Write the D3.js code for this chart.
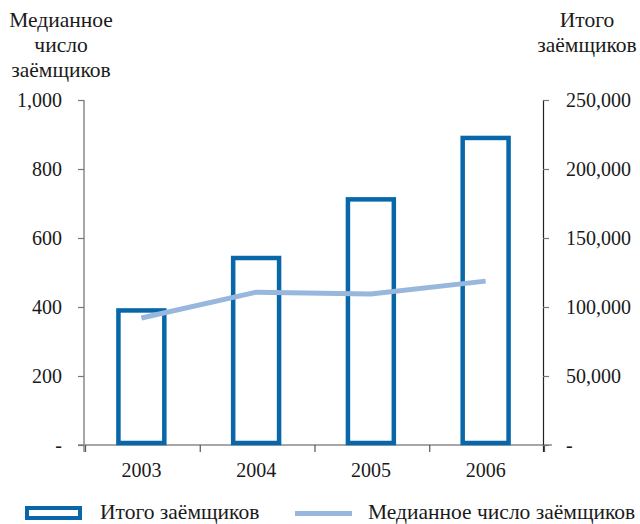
<!DOCTYPE html>
<html>
<head>
<meta charset="utf-8">
<script src="https://cdn.jsdelivr.net/npm/d3@7"></script>
<style>
  body { margin: 0; background: #fff; }
  text { font-family: "Liberation Serif", "Times New Roman", serif; fill: #1a1a1a; }
</style>
</head>
<body>
<svg id="chart"></svg>
<script>
// data
const years = ['2003', '2004', '2005', '2006'];
const totalBorrowers = [97500, 135500, 178000, 222500];
const medianBorrowers = [368, 443, 438, 475];
const leftTicks = [0, 200, 400, 600, 800, 1000];
const rightTicks = [0, 50000, 100000, 150000, 200000, 250000];
const leftTitle = ['Медианное', 'число', 'заёмщиков'];
const rightTitle = ['Итого', 'заёмщиков'];
const legendLabels = ['Итого заёмщиков', 'Медианное число заёмщиков'];

const width = 640, height = 524;
const barColor = '#0767a8';
const lineColor = '#98b7dd';
const fontSize = '20px';
const labelSize = '21.5px';

const svg = d3.select('#chart')
    .attr('width', width)
    .attr('height', height);

const x = d3.scaleBand()
    .domain(years)
    .range([84, 543])
    .paddingInner(0.6)
    .paddingOuter(0.3);

const yLeft = d3.scaleLinear().domain([0, 1000]).range([445, 100]);
const yRight = d3.scaleLinear().domain([0, 250000]).range([445, 100]);

const fmt = d => d === 0 ? '-' : d3.format(',')(d);

// x axis line + boundary ticks
svg.append('line')
    .attr('x1', 78).attr('x2', 552)
    .attr('y1', yLeft(0)).attr('y2', yLeft(0))
    .attr('stroke', '#8a8a8a').attr('stroke-width', 1.5);

const bounds = years.map(d => x(d) - x.step() * x.paddingInner() / 2)
    .concat([x(years[years.length - 1]) + x.bandwidth() + x.step() * x.paddingInner() / 2]);

svg.selectAll('.xtick')
    .data(bounds)
  .join('line')
    .attr('class', 'xtick')
    .attr('x1', d => d + 1.5).attr('x2', d => d + 1.5)
    .attr('y1', yLeft(0)).attr('y2', yLeft(0) + 7)
    .attr('stroke', '#555').attr('stroke-width', 1.2);

const xAxis = svg.append('g')
    .attr('transform', `translate(0,${yLeft(0)})`)
    .call(d3.axisBottom(x).tickSize(0).tickPadding(18));
xAxis.select('.domain').remove();
xAxis.selectAll('text').style('font-size', fontSize).attr('fill', '#1a1a1a');

// left axis
svg.append('line')
    .attr('x1', 84).attr('x2', 84)
    .attr('y1', 100).attr('y2', 452)
    .attr('stroke', '#8a8a8a').attr('stroke-width', 1.5);

const leftAxis = svg.append('g')
    .attr('transform', 'translate(84,0)')
    .call(d3.axisLeft(yLeft).tickValues(leftTicks).tickFormat(fmt)
        .tickSize(6).tickPadding(16).tickSizeOuter(0));
leftAxis.select('.domain').remove();
leftAxis.selectAll('line').attr('stroke', '#777').attr('stroke-width', 1.2);
leftAxis.selectAll('text').style('font-size', fontSize).attr('fill', '#1a1a1a');

// right axis
svg.append('line')
    .attr('x1', 543.5).attr('x2', 543.5)
    .attr('y1', 100).attr('y2', 452)
    .attr('stroke', '#222').attr('stroke-width', 1.2);

const rightAxis = svg.append('g')
    .attr('transform', 'translate(543,0)')
    .call(d3.axisRight(yRight).tickValues(rightTicks).tickFormat(fmt)
        .tickSize(6).tickPadding(17).tickSizeOuter(0));
rightAxis.select('.domain').remove();
rightAxis.selectAll('line').attr('stroke', '#777').attr('stroke-width', 1.2);
rightAxis.selectAll('text').style('font-size', fontSize).attr('fill', '#1a1a1a');

// bars (outlined)
svg.selectAll('.bar')
    .data(years)
  .join('rect')
    .attr('class', 'bar')
    .attr('x', d => x(d))
    .attr('width', x.bandwidth())
    .attr('y', (d, i) => yRight(totalBorrowers[i]))
    .attr('height', (d, i) => yRight(0) - yRight(totalBorrowers[i]) - 2)
    .attr('fill', 'none')
    .attr('stroke', barColor)
    .attr('stroke-width', 4.5);

// median line
const line = d3.line()
    .x((d, i) => x(years[i]) + x.bandwidth() / 2)
    .y(d => yLeft(d));

svg.append('path')
    .datum(medianBorrowers)
    .attr('d', line)
    .attr('fill', 'none')
    .attr('stroke', lineColor)
    .attr('stroke-width', 5);

// axis titles
svg.append('text')
    .attr('text-anchor', 'middle')
    .style('font-size', labelSize)
    .selectAll('tspan')
    .data(leftTitle)
  .join('tspan')
    .attr('x', 61)
    .attr('y', (d, i) => 27 + i * 25)
    .text(d => d);

svg.append('text')
    .attr('text-anchor', 'middle')
    .style('font-size', labelSize)
    .selectAll('tspan')
    .data(rightTitle)
  .join('tspan')
    .attr('x', 587)
    .attr('y', (d, i) => 27 + i * 25)
    .text(d => d);

// legend
const legend = svg.append('g');
legend.append('rect')
    .attr('x', 27).attr('y', 508)
    .attr('width', 53).attr('height', 10)
    .attr('fill', 'none')
    .attr('stroke', barColor)
    .attr('stroke-width', 4);
legend.append('text')
    .attr('x', 100).attr('y', 518.5)
    .style('font-size', labelSize)
    .text(legendLabels[0]);
legend.append('line')
    .attr('x1', 295).attr('x2', 352)
    .attr('y1', 513.5).attr('y2', 513.5)
    .attr('stroke', lineColor)
    .attr('stroke-width', 5);
legend.append('text')
    .attr('x', 368).attr('y', 518.5)
    .style('font-size', labelSize)
    .text(legendLabels[1]);
</script>
</body>
</html>
